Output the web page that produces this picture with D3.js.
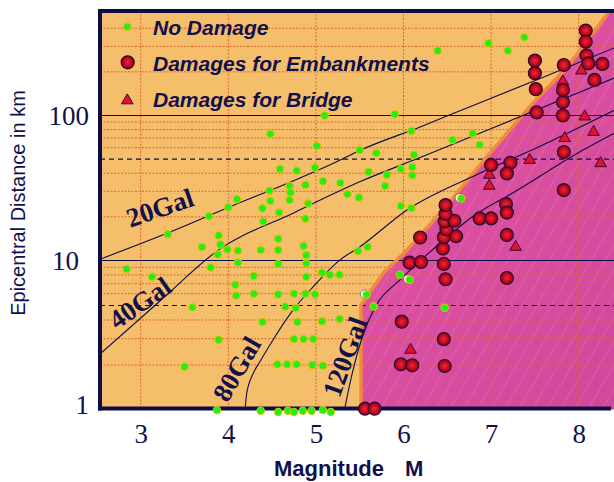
<!DOCTYPE html>
<html><head><meta charset="utf-8">
<script src="https://cdn.jsdelivr.net/npm/d3@7"></script>
<style>body{margin:0;background:#fff;overflow:hidden}</style>
</head><body>
<svg id="c" width="614" height="482"></svg>
<script>
// ---------- DATA ----------
const xTicks = [3, 4, 5, 6, 7, 8];
const yTicks = [1, 10, 100];
const minorY = [2, 3, 4, 6, 7, 8, 9, 20, 30, 40, 60, 70, 80, 90, 200, 300, 400];
const dashedY = [5, 50];
const legendLabels = ["No Damage", "Damages for Embankments", "Damages for Bridge"];
const curveLabels = ["20Gal", "40Gal", "80Gal", "120Gal"];

// [Magnitude, Epicentral distance km]
const noDamage = [[6.39,280],[6.97,315],[7.19,280],[7.38,346],[5.10,100],[5.90,102],[4.48,74.8],[6.09,78.2],[5.01,61.7],[5.50,57.8],
[5.69,55.1],[6.12,53.5],[6.56,67.8],[6.79,75.2],[6.87,62.7],[4.59,42.8],[4.78,41.6],[4.99,43.6],[5.08,35.2],[5.28,34.2],
[5.60,40.9],[5.81,39.1],[5.97,42.7],[6.10,44.2],[6.10,38.7],[5.79,32.7],[4.47,30.3],[4.70,32.7],[4.71,29.4],[4.88,33.2],
[5.36,28.7],[5.49,27.2],[4.10,26.5],[4.00,23.3],[4.39,22.9],[4.48,25.7],[4.70,26.1],[4.58,21.4],[4.91,24.7],[5.97,23.8],
[6.09,23.0],[6.66,26.8],[3.78,20.2],[4.40,18.6],[4.88,19.4],[3.31,15.2],[3.89,14.9],[3.91,12.9],[3.70,12.4],[3.99,11.9],
[4.11,11.7],[3.88,11.0],[4.57,14.1],[4.57,11.8],[4.37,11.8],[4.86,12.6],[4.89,10.9],[5.48,11.6],[5.59,12.4],[4.89,9.58],
[4.57,9.48],[4.11,9.69],[2.84,8.75],[3.13,7.79],[3.80,8.98],[4.29,7.88],[4.89,7.79],[5.07,8.29],[5.16,8.00],[5.27,8.04],
[5.96,8.04],[6.07,7.44],[4.08,6.89],[4.09,5.83],[4.29,6.00],[4.57,5.93],[4.75,6.00],[4.88,6.00],[4.99,5.94],[5.58,5.91],
[5.66,4.92],[3.59,4.86],[4.65,4.91],[4.77,4.81],[6.47,4.83],[4.39,3.88],[4.79,3.88],[5.07,3.92],[5.27,4.06],[3.89,2.95],
[4.75,2.98],[4.86,2.98],[4.97,2.98],[3.50,1.95],[4.56,2.02],[4.67,2.02],[4.78,2.02],[4.96,2.00],[5.08,1.98],[3.87,1.00],
[4.37,0.99],[4.57,0.97],[4.68,0.99],[4.75,0.97],[4.85,0.99],[4.95,0.99],[5.08,1.00],[5.17,0.97]];
// no-damage points that show a white halo behind them
const ringedNoDamage = [[6.66,26.8],[6.07,7.44],[5.58,5.91]];

const embankment = [[5.56,1.02],[5.67,1.02],[5.97,2.02],[6.10,1.99],[6.47,1.97],[6.46,2.98],[5.98,3.90],[6.48,7.49],[7.18,7.64],
[6.07,9.67],[6.20,9.77],[6.46,9.48],[6.19,14.4],[6.45,12.1],[6.46,14.5],[6.60,14.7],[6.49,16.4],[6.47,18.6],[6.58,18.8],
[6.48,21.0],[6.48,24.1],[6.87,19.5],[7.00,19.5],[7.18,15.0],[7.17,24.5],[7.18,21.4],[7.00,45.6],[7.22,47.2],[7.18,39.9],
[7.83,30.6],[7.83,56.0],[7.52,105],[7.82,100],[7.82,124],[7.82,150],[7.51,152],[7.50,196],[7.50,239],[7.83,223],
[8.08,385],[8.08,323],[8.09,259],[8.11,229],[8.27,227],[8.18,176]];

const bridge = [[6.08,2.52],[7.28,12.4],[6.98,38.9],[6.98,32.7],[7.44,49.3],[8.25,46.8],[7.84,69.7],[8.17,76.9],[8.07,98.2],
[7.82,171],[8.03,204]];

// damage zone boundary (pink area lies to the right)
const zoneBoundary = [[5.515,0.8],[5.515,1.0],[5.515,5.04],[5.77,8.25],[6.04,11.8],[6.45,22.3],[6.95,51.8],[7.44,115],[7.87,216],[8.32,493],[8.37,560]];

// iso-acceleration curves
const gal20 = [[2.535,10.2],[3.30,15.4],[4.02,23.5],[4.67,34.0],[5.20,46.8],[5.50,57.4],[6.19,83.4],[6.76,115],[7.56,180],[8.45,300]];
const gal40 = [[2.535,2.37],[3.22,5.36],[3.886,11.8],[4.74,21.2],[5.50,34.9],[6.19,51.3],[6.87,75.4],[8.45,186]];
const gal80 = [[4.185,0.9],[4.21,1.29],[4.285,1.76],[4.36,2.10],[4.51,2.94],[4.74,4.67],[4.97,6.68],[5.275,10.1],[5.50,12.4],[6.04,22.3],[6.87,39.9],[7.56,61.4],[8.45,112]];
const gal120 = [[5.31,0.9],[5.41,1.71],[5.53,3.08],[5.69,5.04],[5.96,7.41],[6.42,13.2],[6.79,20.1],[7.25,29.3],[8.05,57.8],[8.45,78]];

// ---------- CHART ----------
const NAVY = "#0c0c46", TXT = "#10104c";
const svg = d3.select("#c");
const x = d3.scaleLinear().domain([3, 8]).range([140.7, 578.7]);
const y = d3.scaleLog().domain([1, 10, 100, 1000]).range([410, 260.5, 115.5, -29.5]);
const L = 100, T = 11, R = 620, B = 408.5;

const defs = svg.append("defs");
defs.append("clipPath").attr("id", "clip").append("rect")
  .attr("x", L).attr("y", T).attr("width", R - L).attr("height", B - T + 1);
const pat = defs.append("pattern").attr("id", "hatch").attr("patternUnits", "userSpaceOnUse")
  .attr("width", 12).attr("height", 12).attr("patternTransform", "rotate(30)");
pat.append("line").attr("x1", 6).attr("x2", 6).attr("y1", 0).attr("y2", 12)
  .attr("stroke", "#f3b0d4").attr("stroke-width", 0.7).attr("opacity", 0.3);
const pg = defs.append("linearGradient").attr("id", "pinkg").attr("x1", "0").attr("y1", "0").attr("x2", "1").attr("y2", "1");
pg.append("stop").attr("offset", "0%").attr("stop-color", "#e555a8");
pg.append("stop").attr("offset", "100%").attr("stop-color", "#cc4597");
const rg = defs.append("radialGradient").attr("id", "redg").attr("cx", "50%").attr("cy", "50%").attr("r", "55%");
rg.append("stop").attr("offset", "0%").attr("stop-color", "#f4243a");
rg.append("stop").attr("offset", "55%").attr("stop-color", "#c40a1e");
rg.append("stop").attr("offset", "100%").attr("stop-color", "#6a0012");

// background
svg.append("rect").attr("x", L).attr("y", T).attr("width", R - L).attr("height", B - T).attr("fill", "#f5be6b");

const plot = svg.append("g").attr("clip-path", "url(#clip)");

// pink damage zone
const zonePoly = zoneBoundary.concat([[9.5, 1000], [9.5, 0.5], [zoneBoundary[0][0], 0.5]]);
const polyStr = zonePoly.map(d => [x(d[0]), y(d[1])].join(",")).join(" ");
plot.append("polygon").attr("points", polyStr).attr("fill", "url(#pinkg)");
plot.append("polygon").attr("points", polyStr).attr("fill", "url(#hatch)");

// grid
plot.selectAll(".gx").data(xTicks).join("line")
  .attr("x1", d => x(d)).attr("x2", d => x(d)).attr("y1", T).attr("y2", B)
  .attr("stroke", "#e0662c").attr("stroke-width", 1).attr("stroke-dasharray", "2,1.5");
plot.selectAll(".gy").data(minorY).join("line")
  .attr("x1", L).attr("x2", R).attr("y1", d => y(d)).attr("y2", d => y(d))
  .attr("stroke", "#e0662c").attr("stroke-width", 1).attr("stroke-dasharray", "2,1.5");
plot.selectAll(".gd").data(dashedY).join("line")
  .attr("x1", L).attr("x2", R).attr("y1", d => y(d)).attr("y2", d => y(d))
  .attr("stroke", NAVY).attr("stroke-width", 1.1).attr("stroke-dasharray", "5,4");
plot.selectAll(".gs").data([10, 100]).join("line")
  .attr("x1", L).attr("x2", R).attr("y1", d => y(d)).attr("y2", d => y(d))
  .attr("stroke", NAVY).attr("stroke-width", 1.1);

// zone border (orange)
const line = d3.line().x(d => x(d[0])).y(d => y(d[1]));
plot.append("path").attr("d", line(zoneBoundary)).attr("fill", "none")
  .attr("stroke", "#f08a3c").attr("stroke-width", 3.5);

// curves
const cl = d3.line().x(d => x(d[0])).y(d => y(d[1])).curve(d3.curveMonotoneX);
[gal20, gal40, gal80, gal120].forEach(c => {
  plot.append("path").attr("d", cl(c)).attr("fill", "none").attr("stroke", NAVY).attr("stroke-width", 1.1);
});

// curve labels
const labelPos = [[160, 208, -19], [140, 303, -35], [237, 369, -60], [345, 357, -70]];
curveLabels.forEach((t, i) => {
  const p = labelPos[i];
  svg.append("text").attr("transform", `translate(${p[0]},${p[1]}) rotate(${p[2]})`)
    .attr("text-anchor", "middle").attr("dominant-baseline", "central")
    .attr("font-family", "Liberation Serif, Times New Roman, serif").attr("font-weight", "bold")
    .attr("font-size", 27).attr("fill", TXT).text(t);
});

// frame
svg.append("line").attr("x1", L).attr("x2", L).attr("y1", T - 2).attr("y2", B + 2).attr("stroke", NAVY).attr("stroke-width", 4);
svg.append("line").attr("x1", L - 2).attr("x2", 614).attr("y1", T).attr("y2", T).attr("stroke", NAVY).attr("stroke-width", 4);
svg.append("line").attr("x1", L - 2).attr("x2", 611).attr("y1", B).attr("y2", B).attr("stroke", NAVY).attr("stroke-width", 4);

// axes
const ya = svg.append("g").attr("transform", `translate(${L},0)`)
  .call(d3.axisLeft(y).tickValues(yTicks).tickFormat(d3.format("d")).tickSize(0).tickPadding(11));
ya.select(".domain").remove();
ya.selectAll("text").attr("font-family", "Liberation Serif, Times New Roman, serif").attr("font-size", 27).attr("fill", TXT);
ya.selectAll("text").filter(d => d === 10).attr("x", -21);
ya.selectAll("text").filter(d => d === 1).attr("y", -5);

const xa = svg.append("g").attr("transform", `translate(0,${B})`)
  .call(d3.axisBottom(x).tickValues(xTicks).tickFormat(d3.format("d")).tickSize(0).tickPadding(15));
xa.select(".domain").remove();
xa.selectAll("text").attr("font-family", "Liberation Serif, Times New Roman, serif").attr("font-size", 27).attr("fill", TXT);

svg.append("text").attr("x", 274).attr("y", 476).attr("font-family", "Liberation Sans, Arial, sans-serif")
  .attr("font-weight", "bold").attr("font-size", 22).attr("fill", TXT).text("Magnitude");
svg.append("text").attr("x", 405).attr("y", 476).attr("font-family", "Liberation Sans, Arial, sans-serif")
  .attr("font-weight", "bold").attr("font-size", 22).attr("fill", TXT).text("M");
svg.append("text").attr("transform", "translate(25,203) rotate(-90)").attr("text-anchor", "middle")
  .attr("font-family", "Liberation Sans, Arial, sans-serif").attr("font-size", 20).attr("fill", TXT)
  .text("Epicentral Distance in km");

// points
const tri = d3.symbol().type(d3.symbolTriangle).size(58);
svg.append("g").selectAll("circle").data(ringedNoDamage).join("circle")
  .attr("cx", d => x(d[0]) - 2).attr("cy", d => y(d[1]) - 0.5).attr("r", 4.2)
  .attr("fill", "#ffffff").attr("stroke", "#444").attr("stroke-width", 0.6);
svg.append("g").selectAll("circle").data(noDamage).join("circle")
  .attr("cx", d => x(d[0])).attr("cy", d => y(d[1])).attr("r", 3.7)
  .attr("fill", "#1ef01a").attr("stroke", "#d8c400").attr("stroke-width", 1.1);
svg.append("g").selectAll("path").data(bridge).join("path")
  .attr("d", tri).attr("transform", d => `translate(${x(d[0])},${y(d[1])})`)
  .attr("fill", "#e0122e").attr("stroke", "#3a0a36").attr("stroke-width", 1);
svg.append("g").selectAll("circle").data(embankment).join("circle")
  .attr("cx", d => x(d[0])).attr("cy", d => y(d[1])).attr("r", 6.5)
  .attr("fill", "url(#redg)").attr("stroke", "#2a0a30").attr("stroke-width", 1.2);

// legend
const lg = svg.append("g");
lg.append("circle").attr("cx", 127.3).attr("cy", 26.7).attr("r", 3.7)
  .attr("fill", "#1ef01a").attr("stroke", "#d8c400").attr("stroke-width", 1.1);
lg.append("circle").attr("cx", 127.7).attr("cy", 62.3).attr("r", 6.5)
  .attr("fill", "url(#redg)").attr("stroke", "#2a0a30").attr("stroke-width", 1.2);
lg.append("path").attr("d", tri).attr("transform", "translate(127.3,100.5)")
  .attr("fill", "#e0122e").attr("stroke", "#3a0a36").attr("stroke-width", 1);
legendLabels.forEach((t, i) => {
  lg.append("text").attr("x", 153).attr("y", 35 + i * 36.2)
    .attr("font-family", "Liberation Sans, Arial, sans-serif").attr("font-weight", "bold").attr("font-style", "italic")
    .attr("font-size", 21).attr("fill", TXT).text(t);
});
</script>
</body></html>
